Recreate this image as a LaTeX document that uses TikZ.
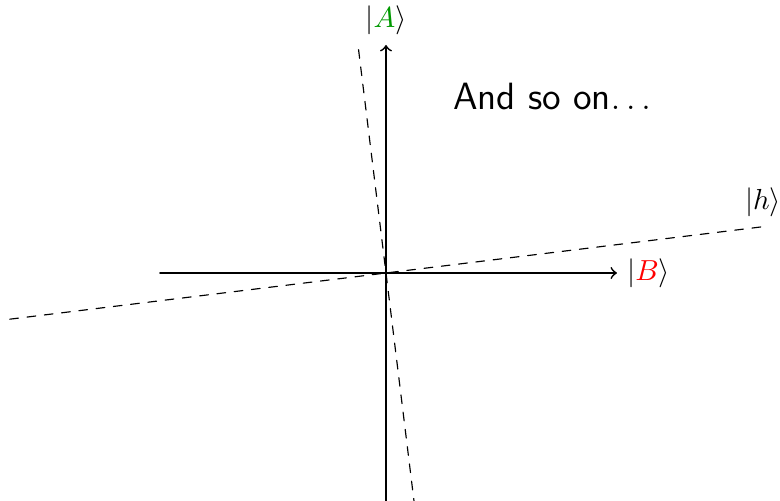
\documentclass[tikz,border=0pt]{standalone}
\usepackage{amsmath}
\begin{document}
\begin{tikzpicture}[x=.345pt, y=.345pt, >=to, line join=round, line cap=round]
			\tikzset{axis/.style={semithick, ->}, guide/.style={dashed, thin}}
			\useasboundingbox (-386,-228) rectangle (394,273);
			\path (0,0) coordinate (O)
			(-226,0) coordinate (Bl)
			(231,0) coordinate (Br)
			(0,-230) coordinate (Ad)
			(0,228) coordinate (Au)
			(187:379) coordinate (hl)
			(7:380) coordinate (hr)
			(97:225) coordinate (pu)
			(277:236) coordinate (pd);
			\draw [guide] (hl)--(hr);
			\draw [guide] (pu)--(pd);
			\draw [axis] (Bl)--(Br);
			\draw [axis] (Ad)--(Au);
			\node [above] (labA) at (Au) {$|{\color{green!60!black}A}\rangle$};
			\node [right] (labB) at (Br) {$|{\color{red}B}\rangle$};
			\node [above] (labh) at (hr) {$|h\rangle$};
			\node (more) at (166,176) {\sffamily\fontsize{13.1pt}{16pt}\selectfont And so on$\ldots$};
		\end{tikzpicture}
\end{document}
